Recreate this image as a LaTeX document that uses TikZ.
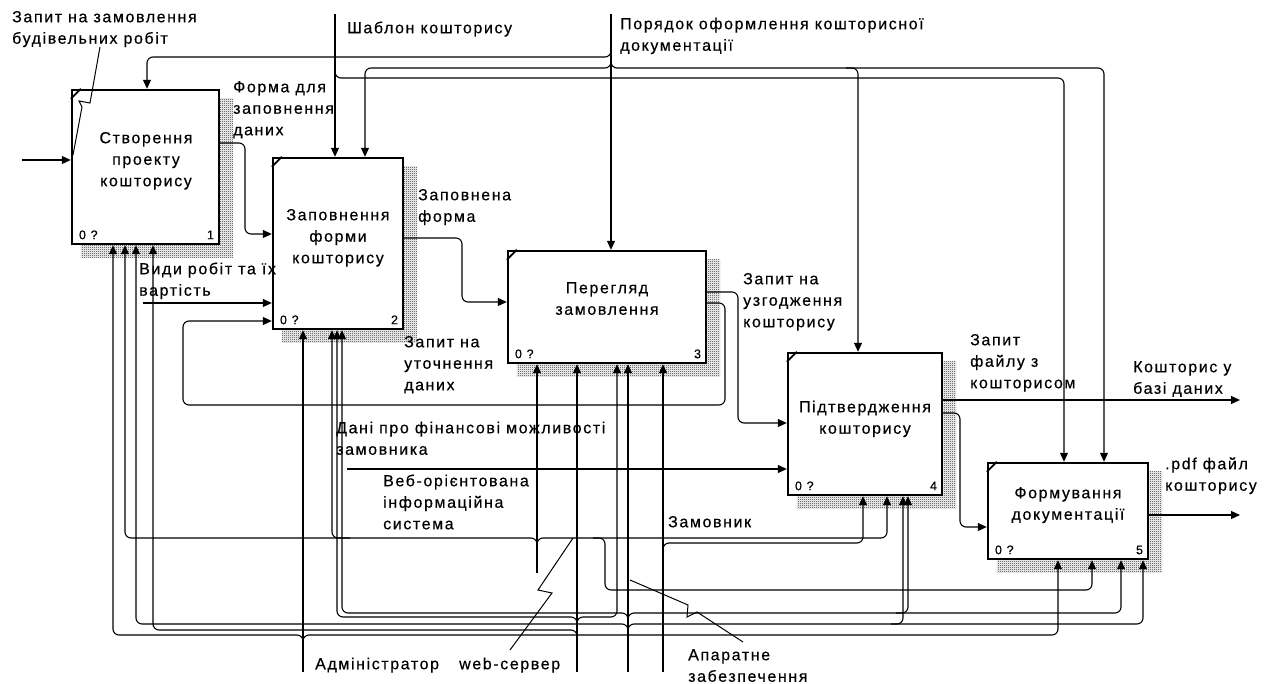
\documentclass[tikz,border=0pt]{standalone}
\usepackage{fontspec}
\setmainfont{Liberation Sans}[LetterSpace=10,FakeBold=0.4]
\usetikzlibrary{arrows.meta,patterns,backgrounds}

% fine dithered texture used for the box shadows
\pgfdeclarepatternformonly{dither}{\pgfqpoint{0pt}{0pt}}{\pgfqpoint{2pt}{2pt}}{\pgfqpoint{2pt}{2pt}}{%
  \pgfpathrectangle{\pgfqpoint{0pt}{0pt}}{\pgfqpoint{1pt}{1pt}}%
  \pgfpathrectangle{\pgfqpoint{1pt}{1pt}}{\pgfqpoint{1pt}{1pt}}%
  \pgfusepath{fill}}

\begin{document}
\begin{tikzpicture}[x=1pt,y=-1pt,
  font=\fontsize{16}{21.5}\selectfont,
  box/.style={draw, line width=2.4pt, fill=white, inner sep=0pt},
  ttl/.style={align=center, anchor=north, inner sep=0pt},
  lab/.style={align=left, anchor=north west, inner sep=0pt},
  num/.style={font=\fontsize{12.5}{14}\selectfont, inner sep=0pt},
  arr/.style={line width=1.1pt, rounded corners=6pt, -{Triangle[length=9pt,width=8pt]}},
  wire/.style={line width=1.1pt, rounded corners=6pt},
  squig/.style={line width=1pt},
  corner/.style={line width=1.8pt},
  shade/.style={pattern=dither, pattern color=black!85}]

\useasboundingbox (0,0) rectangle (1270,684);

% ---------- activity boxes ----------
\node[box, minimum width=147pt, minimum height=154pt] (b1) at (145.5,167) {};
\node[box, minimum width=130pt, minimum height=171pt] (b2) at (338,243.5) {};
\node[box, minimum width=198pt, minimum height=112pt] (b3) at (607,307) {};
\node[box, minimum width=154pt, minimum height=142pt] (b4) at (865,424) {};
\node[box, minimum width=160pt, minimum height=96pt]  (b5) at (1068,511) {};

\foreach \b/\n in {b1/1,b2/2,b3/3,b4/4,b5/5}{
  \draw[corner] ([yshift=-10pt]\b.north west) -- ([xshift=10pt]\b.north west);
  \node[num, anchor=base west] (z\n) at ([xshift=8pt,yshift=6pt]\b.south west) {0 ?};
  \node[num, anchor=base east] (n\n) at ([xshift=-6pt,yshift=6pt]\b.south east) {\n};
}

\node[ttl] (t1) at (146,128)  {\strut Створення\\проекту\\кошторису};
\node[ttl] (t2) at (338,205)  {\strut Заповнення\\форми\\кошторису};
\node[ttl] (t3) at (607,278)  {\strut Перегляд\\замовлення};
\node[ttl] (t4) at (865,397)  {\strut Підтвердження\\кошторису};
\node[ttl] (t5) at (1068,483) {\strut Формування\\документації};

% ---------- arrow labels ----------
\node[lab] (lZap) at (12,7)    {\strut Запит на замовлення\\будівельних робіт};
\node[lab] (lSh)  at (347,18)  {\strut Шаблон кошторису};
\node[lab] (lPo)  at (620,14)  {\strut Порядок оформлення кошторисної\\документації};
\node[lab] (lFo)  at (233,77)  {\strut Форма для\\заповнення\\даних};
\node[lab] (lZf)  at (418,185) {\strut Заповнена\\форма};
\node[lab] (lVy)  at (139,259) {\strut Види робіт та їх\\вартість};
\node[lab] (lUt)  at (404,332) {\strut Запит на\\уточнення\\даних};
\node[lab] (lUz)  at (743,269) {\strut Запит на\\узгодження\\кошторису};
\node[lab] (lFz)  at (970,330) {\strut Запит\\файлу з\\кошторисом};
\node[lab] (lKb)  at (1133,357) {\strut Кошторис у\\базі даних};
\node[lab] (lPdf) at (1165,454) {\strut .pdf файл\\кошторису};
\node[lab] (lDn)  at (336,418) {\strut Дані про фінансові можливості\\замовника};
\node[lab] (lWb)  at (383,471) {\strut Веб-орієнтована\\інформаційна\\система};
\node[lab] (lZm)  at (668,512) {\strut Замовник};
\node[lab] (lAd)  at (315,654) {\strut Адміністратор};
\node[lab] (lWs)  at (459,654) {\strut web-сервер};
\node[lab] (lAp)  at (688,645) {\strut Апаратне\\забезпечення};

% ---------- boundary ends ----------
\coordinate (shIn) at (335,14);
\coordinate (poIn) at (611,14);
\coordinate (zIn)  at (22,160);
\coordinate (vyIn) at (143,303);
\coordinate (dnIn) at (347,469);
\coordinate (kbOut) at (1240,400);
\coordinate (pdfOut) at (1240,515);
\coordinate (adIn) at (303,672);
\coordinate (wsIn) at (577,672);
\coordinate (apIn) at (628,672);
\coordinate (zmIn) at (663,672);
\coordinate (wbIn) at (537,573);

% ---------- controls ----------
\draw[arr] (shIn) -- (shIn |- b2.north);
\draw[arr] (335,66) -- (335,78) -- (1064,78) -- (1064,0 |- b5.north);
\draw[arr] (poIn) -- (poIn |- b3.north);
\draw[arr] (611,46) -- (611,57) -- (147,57) -- (147,0 |- b1.north);
\draw[arr] (611,58) -- (611,68) -- (365,68) -- (365,0 |- b2.north);
\draw[arr] (611,58) -- (611,68) -- (1104,68) -- (1104,0 |- b5.north);
\draw[arr] (846,68) -- (858,68) -- (858,0 |- b4.north);

% ---------- inputs and outputs ----------
\draw[arr] (zIn) -- (zIn -| b1.west);
\draw[squig] (100,47) -- (90,103) -- (79,101) -- (82,107) -- (73,155);
\draw[arr] (b1.east |- 0,143) -- (245,143) -- (245,234) -- (b2.west |- 0,234);
\draw[arr] (vyIn) -- (vyIn -| b2.west);
\draw[arr] (b2.east |- 0,238) -- (462,238) -- (462,302) -- (b3.west |- 0,302);
\draw[arr] (b3.east |- 0,292) -- (738,292) -- (738,423) -- (b4.west |- 0,423);
\draw[arr] (b3.east |- 0,303) -- (725,303) -- (725,405) -- (183,405) -- (183,321) -- (b2.west |- 0,321);
\draw[arr] (dnIn) -- (dnIn -| b4.west);
\draw[arr] (b4.east |- kbOut) -- (kbOut);
\draw[arr] (b4.east |- 0,413) -- (960,413) -- (960,527) -- (b5.west |- 0,527);
\draw[arr] (b5.east |- pdfOut) -- (pdfOut);

% ---------- mechanisms ----------
% administrator
\draw[arr] (adIn) -- (adIn |- b2.south);
\draw[arr] (303,642) -- (303,635) -- (113,635) -- (113,0 |- b1.south);
\draw[arr] (303,642) -- (303,635) -- (1058,635) -- (1058,0 |- b5.south);
% web server
\draw[arr] (wsIn) -- (wsIn |- b3.south);
\draw[arr] (577,624) -- (577,617) -- (337,617) -- (337,0 |- b2.south);
\draw[arr] (577,637) -- (577,630) -- (153,630) -- (153,0 |- b1.south);
\draw[arr] (577,624) -- (577,617) -- (617,617) -- (617,0 |- b3.south);
\draw[squig] (573,538) -- (538,590) -- (552,593) -- (510,650);
% hardware
\draw[arr] (apIn) -- (apIn |- b3.south);
\draw[arr] (628,620) -- (628,613) -- (342,613) -- (342,0 |- b2.south);
\draw[arr] (628,620) -- (628,613) -- (1121,613) -- (1121,0 |- b5.south);
\draw[arr] (896,613) -- (908,613) -- (908,0 |- b4.south);
\draw[arr] (628,631) -- (628,624) -- (136,624) -- (136,0 |- b1.south);
\draw[arr] (628,631) -- (628,624) -- (1143,624) -- (1143,0 |- b5.south);
\draw[arr] (891,624) -- (903,624) -- (903,0 |- b4.south);
\draw[squig] (630,580) -- (688,605) -- (687,617) -- (697,612) -- (743,642);
% customer
\draw[arr] (zmIn) -- (zmIn |- b3.south);
\draw[arr] (663,550) -- (663,543) -- (863,543) -- (863,0 |- b4.south);
% web-oriented information system
\draw[arr] (wbIn) -- (wbIn |- b3.south);
\draw[arr] (537,545) -- (537,538) -- (125,538) -- (125,0 |- b1.south);
\draw[arr] (350,538) -- (332,538) -- (332,0 |- b2.south);
\draw[arr] (537,545) -- (537,538) -- (887,538) -- (887,0 |- b4.south);
\draw[arr] (593,538) -- (605,538) -- (605,590) -- (1092,590) -- (1092,0 |- b5.south);

% ---------- page and box shadows ----------
\begin{scope}[on background layer]
  \fill[white] (0,0) rectangle (1270,684);
  \foreach \b in {b1,b2,b3,b4,b5}
    \fill[shade] ([xshift=10pt,yshift=-10pt]\b.north west) rectangle ([xshift=13pt,yshift=-12pt]\b.south east);
\end{scope}
\end{tikzpicture}
\end{document}
